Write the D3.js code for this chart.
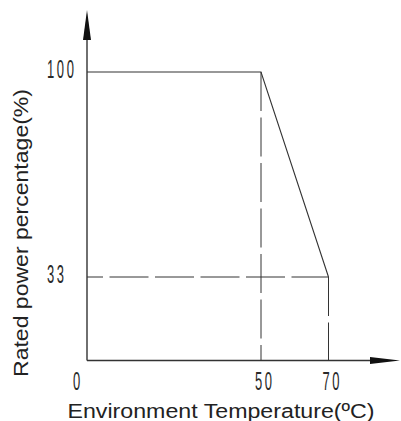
<!DOCTYPE html>
<html lang="en">
	<head>
		<meta charset="utf-8">
		<title>Derating curve</title>
		<script type="text/javascript" src="https://cdn.jsdelivr.net/npm/d3@7"></script>
		<style type="text/css">
			body { margin: 0; background: #fff; }
		</style>
	</head>
	<body>
		<script type="text/javascript">
			/** Data **/
			var temps = [0, 50, 70];            // environment temperature (ºC)
			var power = [100, 100, 33];         // rated power (%)
			var xTicks = ["0", "50", "70"];
			var yTicks = ["100", "33"];

			var width = 401;
			var height = 421;
			var ink = "#333";

			/** The drawing is not to scale, so both scales are piecewise **/
			var x = d3.scaleLinear().domain([0, 50, 70]).range([87, 261, 328.5]);
			var y = d3.scaleLinear().domain([0, 33, 100]).range([360.5, 277, 72]);

			var svg = d3.select("body")
						.append("svg")
						.attr("width", width)
						.attr("height", height);

			/** Axes with arrows **/
			svg.append("line")
				.attr("x1", x(0)).attr("y1", y(0))
				.attr("x2", x(0)).attr("y2", 38)
				.attr("stroke", ink).attr("stroke-width", 1.4);
			svg.append("path")
				.attr("d", "M" + x(0) + ",10 L" + (x(0) - 4) + ",40 L" + (x(0) + 4) + ",40 Z")
				.attr("fill", "#111");
			svg.append("line")
				.attr("x1", x(0)).attr("y1", y(0))
				.attr("x2", 372).attr("y2", y(0))
				.attr("stroke", ink).attr("stroke-width", 1.4);
			svg.append("path")
				.attr("d", "M400," + y(0) + " L370," + (y(0) - 3.5) + " L370," + (y(0) + 3.5) + " Z")
				.attr("fill", "#111");

			/** Dashed guides **/
			var last = temps.length - 1;
			var guides = [
				[[0, power[last]], [temps[last], power[last]]],
				[[temps[1], power[1]], [temps[1], 0]],
				[[temps[last], power[last]], [temps[last], 0]]
			];
			svg.selectAll("line.guide")
				.data(guides)
				.enter()
				.append("line")
				.attr("class", "guide")
				.attr("x1", (d) => x(d[0][0]))
				.attr("y1", (d) => y(d[0][1]))
				.attr("x2", (d) => x(d[1][0]))
				.attr("y2", (d) => y(d[1][1]))
				.attr("stroke", ink)
				.attr("stroke-width", 1)
				.attr("stroke-dasharray", "39,6.5")
				.attr("stroke-dashoffset", (d, i) => i === 0 ? 23 : 0);

			/** Derating curve **/
			var line = d3.line()
						.x((d) => x(d[0]))
						.y((d) => y(d[1]));
			svg.append("path")
				.datum(d3.zip(temps, power))
				.attr("d", line)
				.attr("fill", "none")
				.attr("stroke", ink)
				.attr("stroke-width", 1.1);

			/** Tick labels, narrow CAD-like digits **/
			function cadText(sel) {
				sel.attr("font-family", "'Liberation Sans', Arial, sans-serif")
					.attr("font-size", 25)
					.attr("letter-spacing", 5)
					.attr("fill", "#2a2a2a");
			}
			svg.selectAll("text.ytick")
				.data(yTicks)
				.enter()
				.append("text")
				.attr("class", "ytick")
				.attr("transform", (d) => "translate(47," + (y(+d) + 6) + ") scale(0.52,1)")
				.call(cadText)
				.text((d) => d);
			svg.selectAll("text.xtick")
				.data(xTicks)
				.enter()
				.append("text")
				.attr("class", "xtick")
				.attr("transform", (d) => "translate(" + (+d === 0 ? x(0) - 14 : x(+d) - 6) + ",390) scale(0.52,1)")
				.call(cadText)
				.text((d) => d);

			/** Axis titles **/
			function titleText(sel, len) {
				sel.attr("text-anchor", "middle")
					.attr("font-family", "'Liberation Sans', Arial, sans-serif")
					.attr("font-size", 20)
					.attr("fill", "#222")
					.attr("textLength", len)
					.attr("lengthAdjust", "spacingAndGlyphs");
			}
			svg.append("text")
				.attr("transform", "translate(27.5,233) rotate(-90)")
				.call(titleText, 288)
				.text("Rated power percentage(%)");
			svg.append("text")
				.attr("x", 221)
				.attr("y", 417.5)
				.call(titleText, 307)
				.text("Environment Temperature(ºC)");
		</script>
	</body>
</html>
